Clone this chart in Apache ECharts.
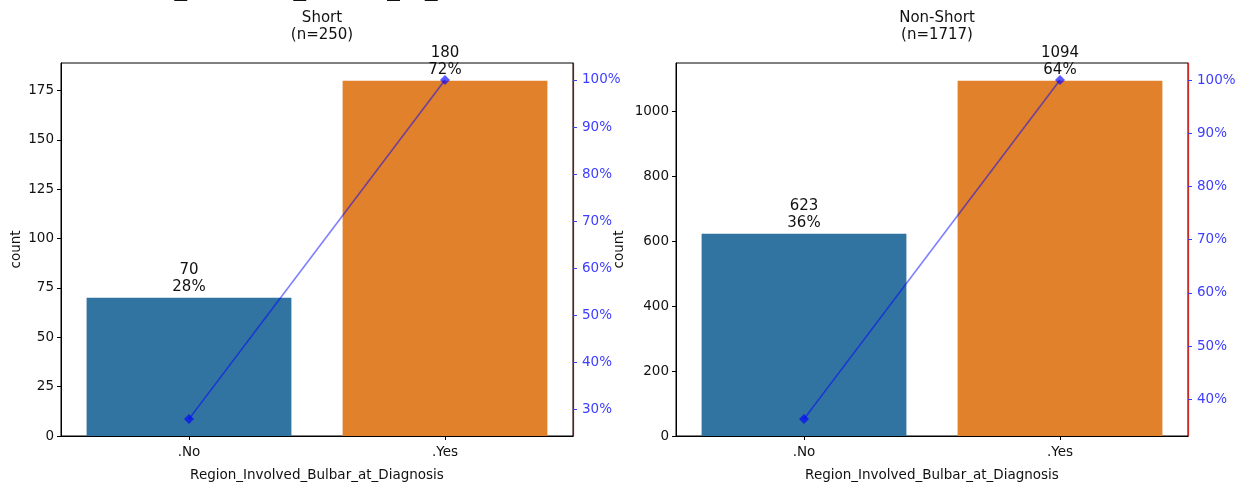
<!DOCTYPE html>
<html>
<head>
<meta charset="utf-8">
<script src="https://cdn.jsdelivr.net/npm/echarts@6/dist/echarts.min.js"></script>
<style>
html,body{margin:0;padding:0;background:#fff;}
#c{width:1239px;height:487px;}
</style>
</head>
<body>
<div id="c"></div>
<script>
// ---- data ----
const categories = ['.No', '.Yes'];
const xAxisName = 'Region_Involved_Bulbar_at_Diagnosis';
const suptitleText = 'Region_Involved_Bulbar_at_Diagnosis';

const shortTitle = 'Short\n(n=250)';
const shortCounts = [70, 180];
const shortPctLabels = ['28%', '72%'];
const shortCumPct = [28, 100];
const shortCountTicks = [0, 25, 50, 75, 100, 125, 150, 175];
const shortPctTicks = [30, 40, 50, 60, 70, 80, 90, 100];
const shortCountRange = [0, 189];
const shortPctRange = [24.4, 103.6];

const nonShortTitle = 'Non-Short\n(n=1717)';
const nonShortCounts = [623, 1094];
const nonShortPctLabels = ['36%', '64%'];
const nonShortCumPct = [36.28, 100];
const nonShortCountTicks = [0, 200, 400, 600, 800, 1000];
const nonShortPctTicks = [40, 50, 60, 70, 80, 90, 100];
const nonShortCountRange = [0, 1148.7];
const nonShortPctRange = [33.1, 103.2];

const barColors = ['#3274a1', '#e1812c'];

// ---- chart ----
const FONT = 'DejaVu Sans';
const chart = echarts.init(document.getElementById('c'), null, {renderer: 'canvas'});

function countAxis(gridIndex, range, ticks, nameGap) {
  return {
    type: 'value', gridIndex: gridIndex, position: 'left',
    min: range[0], max: range[1],
    name: 'count', nameLocation: 'middle', nameGap: nameGap, nameRotate: 90,
    nameTextStyle: {fontFamily: FONT, fontSize: 13.5, color: '#111'},
    axisLine: {show: true, lineStyle: {color: '#000', width: 1}},
    axisTick: {show: true, length: 4, lineStyle: {color: '#000'}, customValues: ticks},
    axisLabel: {fontFamily: FONT, fontSize: 13.5, color: '#111', margin: 7,
      formatter: v => String(v), customValues: ticks},
    splitLine: {show: false}
  };
}
function pctAxis(gridIndex, range, ticks, spineColor) {
  return {
    type: 'value', gridIndex: gridIndex, position: 'right',
    min: range[0], max: range[1],
    axisLine: {show: true, lineStyle: {color: spineColor, width: 1.2}},
    axisTick: {show: true, length: 4, lineStyle: {color: '#3d3dff'}, customValues: ticks},
    axisLabel: {fontFamily: FONT, fontSize: 13.5, color: '#3d3dff', margin: 9,
      formatter: '{value}%', customValues: ticks},
    splitLine: {show: false}
  };
}
function catAxis(gridIndex) {
  return {
    type: 'category', gridIndex: gridIndex, data: categories,
    name: xAxisName, nameLocation: 'middle', nameGap: 32,
    nameTextStyle: {fontFamily: FONT, fontSize: 13.5, color: '#111'},
    axisLine: {show: true, lineStyle: {color: '#000'}},
    axisTick: {show: true, alignWithLabel: true, length: 4, lineStyle: {color: '#000'}},
    axisLabel: {fontFamily: FONT, fontSize: 13.5, color: '#111', margin: 9},
    splitLine: {show: false}
  };
}
function barSeries(xi, yi, counts, pctLabels) {
  return {
    type: 'bar', xAxisIndex: xi, yAxisIndex: yi, barWidth: '80%', z: 2,
    data: counts.map((v, i) => ({value: v, itemStyle: {color: barColors[i]}})),
    label: {
      show: true, position: 'top', distance: 2,
      fontFamily: FONT, fontSize: 15, lineHeight: 17, color: '#111',
      formatter: p => p.value + '\n' + pctLabels[p.dataIndex]
    }
  };
}
function lineSeries(xi, yi, cum) {
  return {
    type: 'line', xAxisIndex: xi, yAxisIndex: yi, z: 5,
    data: cum, symbol: 'diamond', symbolSize: 10,
    lineStyle: {color: 'rgba(0,0,255,0.5)', width: 1.6},
    itemStyle: {color: 'rgba(0,0,255,0.65)'}
  };
}

const option = {
  animation: false,
  backgroundColor: '#fff',
  title: [
    {text: shortTitle, left: 317, top: 5, textAlign: 'center',
     textStyle: {fontFamily: FONT, fontSize: 15, fontWeight: 'normal', color: '#111', lineHeight: 17}},
    {text: nonShortTitle, left: 932, top: 5, textAlign: 'center',
     textStyle: {fontFamily: FONT, fontSize: 15, fontWeight: 'normal', color: '#111', lineHeight: 17}}
  ],
  graphic: [
    {type: 'text', left: 89, top: -24, silent: true,
     style: {text: suptitleText, font: '25px "DejaVu Sans"', fill: '#111'}}
  ],
  grid: [
    {left: 61, right: 666, top: 63, bottom: 50, show: true, borderColor: '#000', borderWidth: 1},
    {left: 676, right: 51, top: 63, bottom: 50, show: true, borderColor: '#000', borderWidth: 1}
  ],
  xAxis: [catAxis(0), catAxis(1)],
  yAxis: [
    countAxis(0, shortCountRange, shortCountTicks, 38),
    pctAxis(0, shortPctRange, shortPctTicks, '#8b1010'),
    countAxis(1, nonShortCountRange, nonShortCountTicks, 50),
    pctAxis(1, nonShortPctRange, nonShortPctTicks, '#d02828')
  ],
  series: [
    barSeries(0, 0, shortCounts, shortPctLabels),
    lineSeries(0, 1, shortCumPct),
    barSeries(1, 2, nonShortCounts, nonShortPctLabels),
    lineSeries(1, 3, nonShortCumPct)
  ]
};
chart.setOption(option);
</script>
</body>
</html>
